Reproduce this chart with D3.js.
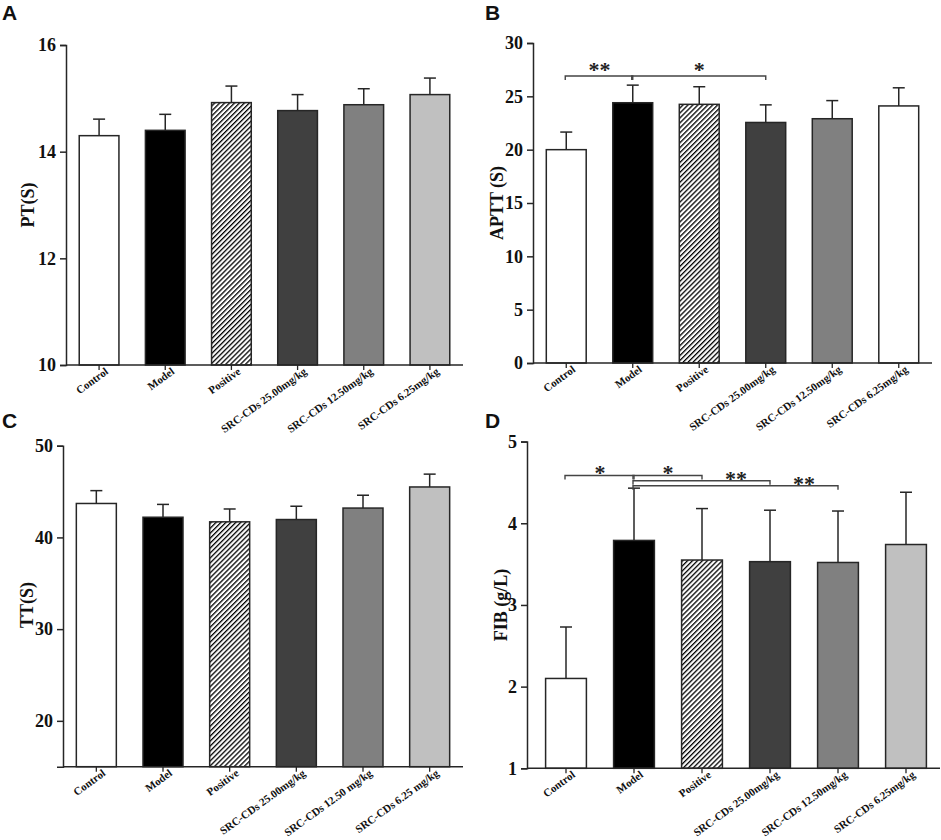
<!DOCTYPE html>
<html>
<head>
<meta charset="utf-8">
<script src="https://cdn.jsdelivr.net/npm/d3@7"></script>
<style>
  body { margin: 0; background: #fff; }
  svg { display: block; }
  .tick text { font-family: "Liberation Serif", "Times New Roman", serif; font-weight: bold; }
</style>
</head>
<body>
<svg id="fig" width="941" height="840"></svg>
<script>
// group names on the x axis
var groups = ["Control", "Model", "Positive", "SRC-CDs 25.00mg/kg", "SRC-CDs 12.50mg/kg", "SRC-CDs 6.25mg/kg"];
var groupsTT = ["Control", "Model", "Positive", "SRC-CDs 25.00mg/kg", "SRC-CDs 12.50 mg/kg", "SRC-CDs 6.25 mg/kg"];

// means and SD
var ptMean = [14.30, 14.40, 14.92, 14.77, 14.88, 15.07];
var ptSd   = [0.31, 0.30, 0.31, 0.30, 0.30, 0.31];
var apttMean = [20.0, 24.4, 24.25, 22.55, 22.9, 24.1];
var apttSd   = [1.65, 1.65, 1.65, 1.65, 1.7, 1.7];
var ttMean = [43.7, 42.2, 41.7, 41.95, 43.2, 45.5];
var ttSd   = [1.4, 1.4, 1.4, 1.45, 1.4, 1.4];
var fibMean = [2.10, 3.79, 3.55, 3.53, 3.52, 3.74];
var fibSd   = [0.63, 0.64, 0.63, 0.63, 0.63, 0.64];

// y ticks
var ptTicks = [10, 12, 14, 16];
var apttTicks = [0, 5, 10, 15, 20, 25, 30];
var ttTicks = [20, 30, 40, 50];
var fibTicks = [1, 2, 3, 4, 5];

// significance brackets (group indexes, level in data units)
var apttSig = [
  {a: 0, b: 1, from: 0, level: 26.9, text: "**"},
  {a: 1, b: 3, from: 1, level: 26.9, text: "*"}
];
var fibSig = [
  {a: 0, b: 1, from: 0, level: 4.585, text: "*"},
  {a: 1, b: 2, from: 1, level: 4.585, text: "*"},
  {a: 1, b: 3, from: 2, level: 4.52, text: "**"},
  {a: 1, b: 4, from: 3, level: 4.46, text: "**"}
];

var fills = ["#ffffff", "#000000", "url(#hatch)", "#404040", "#808080", "#c0c0c0"];
var fillsB = ["#ffffff", "#000000", "url(#hatch)", "#404040", "#808080", "#ffffff"];

var ink = "#262626";
var svg = d3.select("#fig");

var defs = svg.append("defs");
defs.append("pattern")
  .attr("id", "hatch")
  .attr("patternUnits", "userSpaceOnUse")
  .attr("width", 3.5).attr("height", 3.5)
  .attr("patternTransform", "rotate(45)")
  .call(function(p){
    p.append("rect").attr("width", 3.5).attr("height", 3.5).attr("fill", "#fff");
    p.append("line").attr("x1", 0).attr("y1", 0).attr("x2", 0).attr("y2", 3.5)
      .attr("stroke", "#000").attr("stroke-width", 2.6);
  });

function drawPanel(cfg) {
  var g = svg.append("g");

  var y = d3.scaleLinear().domain(cfg.domain).range([cfg.bottom, cfg.top]);
  var x = d3.scaleBand().domain(d3.range(cfg.means.length))
    .range(cfg.band).paddingInner(0.4).paddingOuter(0.2);

  // y axis
  var ya = g.append("g")
    .attr("transform", "translate(" + cfg.left + ",0)")
    .call(d3.axisLeft(y).tickValues(cfg.ticks).tickSize(6).tickPadding(4).tickFormat(d3.format("d")));
  ya.select(".domain").attr("stroke", ink).attr("stroke-width", 1.5);
  ya.selectAll(".tick line").attr("stroke", ink).attr("stroke-width", 1.5);
  ya.selectAll(".tick text").attr("font-size", 18).attr("fill", "#111");

  // bars
  g.selectAll("rect.bar").data(cfg.means).enter().append("rect")
    .attr("class", "bar")
    .attr("x", function(d, i){ return x(i); })
    .attr("width", x.bandwidth())
    .attr("y", function(d){ return y(d); })
    .attr("height", function(d){ return y(cfg.domain[0]) - y(d); })
    .attr("fill", function(d, i){ return cfg.fills[i]; })
    .attr("stroke", ink).attr("stroke-width", 1.5);

  // error bars (upper only)
  var eb = g.selectAll("g.err").data(cfg.means).enter().append("g").attr("class", "err");
  eb.append("line")
    .attr("x1", function(d, i){ return x(i) + x.bandwidth() / 2; })
    .attr("x2", function(d, i){ return x(i) + x.bandwidth() / 2; })
    .attr("y1", function(d){ return y(d); })
    .attr("y2", function(d, i){ return y(d + cfg.sds[i]); })
    .attr("stroke", ink).attr("stroke-width", 1.5);
  eb.append("line")
    .attr("x1", function(d, i){ return x(i) + x.bandwidth() / 2 - 6; })
    .attr("x2", function(d, i){ return x(i) + x.bandwidth() / 2 + 6; })
    .attr("y1", function(d, i){ return y(d + cfg.sds[i]); })
    .attr("y2", function(d, i){ return y(d + cfg.sds[i]); })
    .attr("stroke", ink).attr("stroke-width", 1.5);

  // x axis
  var xa = g.append("g")
    .attr("transform", "translate(0," + cfg.bottom + ")")
    .call(d3.axisBottom(x).tickSize(5).tickFormat(function(i){ return cfg.labels[i]; }));
  xa.select(".domain").remove();
  xa.selectAll(".tick line").attr("stroke", ink).attr("stroke-width", 1.3);
  xa.selectAll(".tick text")
    .attr("font-size", 11).attr("fill", "#111")
    .attr("text-anchor", "end")
    .attr("x", null).attr("y", null).attr("dy", null)
    .attr("transform", "translate(10,8) rotate(-36)");
  g.append("line")
    .attr("x1", cfg.left).attr("x2", cfg.right)
    .attr("y1", cfg.bottom).attr("y2", cfg.bottom)
    .attr("stroke", ink).attr("stroke-width", 1.5);

  // y label
  g.append("text")
    .attr("transform", "translate(" + cfg.ylabelX + "," + cfg.ylabelY + ") rotate(-90)")
    .attr("text-anchor", "middle")
    .attr("font-family", "'Liberation Serif', 'Times New Roman', serif")
    .attr("font-weight", "bold").attr("font-size", 18).attr("fill", "#111")
    .text(cfg.ylabel);

  // panel letter
  g.append("text")
    .attr("x", cfg.letterX).attr("y", cfg.letterY)
    .attr("font-family", "'Liberation Sans', Arial, sans-serif")
    .attr("font-weight", "bold").attr("font-size", 21).attr("fill", "#111")
    .text(cfg.letter);

  // significance brackets
  var cx = function(i){ return x(i) + x.bandwidth() / 2; };
  (cfg.sig || []).forEach(function(s){
    var yy = y(s.level);
    g.append("path")
      .attr("d", "M" + (cx(s.a) - 1) + "," + (yy + 4) + "V" + yy + "H" + (cx(s.b)) + "V" + (yy + 4))
      .attr("fill", "none").attr("stroke", "#444").attr("stroke-width", 1.4);
    g.append("text")
      .attr("x", (cx(s.from) + cx(s.b)) / 2)
      .attr("y", yy + cfg.starDy)
      .attr("text-anchor", "middle")
      .attr("font-family", "'Liberation Serif', 'Times New Roman', serif")
      .attr("font-weight", "bold").attr("font-size", 22).attr("fill", "#222")
      .text(s.text);
  });
}

drawPanel({
  letter: "A", letterX: 2, letterY: 20,
  left: 66, right: 463, band: [66, 463], top: 45, bottom: 365,
  domain: [10, 16], ticks: ptTicks,
  means: ptMean, sds: ptSd, labels: groups, fills: fills,
  ylabel: "PT(S)", ylabelX: 34, ylabelY: 205
});

drawPanel({
  letter: "B", letterX: 485, letterY: 20,
  left: 533, right: 932, band: [533, 932], top: 43, bottom: 363,
  domain: [0, 30], ticks: apttTicks,
  means: apttMean, sds: apttSd, labels: groups, fills: fillsB,
  ylabel: "APTT (S)", ylabelX: 503, ylabelY: 203,
  sig: apttSig, starDy: 1
});

drawPanel({
  letter: "C", letterX: 2, letterY: 428,
  left: 63, right: 463, band: [63, 463], top: 445.7, bottom: 766.7,
  domain: [15, 50], ticks: ttTicks,
  means: ttMean, sds: ttSd, labels: groupsTT, fills: fills,
  ylabel: "TT(S)", ylabelX: 33, ylabelY: 605
});

drawPanel({
  letter: "D", letterX: 485, letterY: 428,
  left: 527, right: 940, band: [532, 940], top: 441.6, bottom: 768.3,
  domain: [1, 5], ticks: fibTicks,
  means: fibMean, sds: fibSd, labels: groups, fills: fills,
  ylabel: "FIB (g/L)", ylabelX: 507, ylabelY: 605,
  sig: fibSig, starDy: 5
});
</script>
</body>
</html>
